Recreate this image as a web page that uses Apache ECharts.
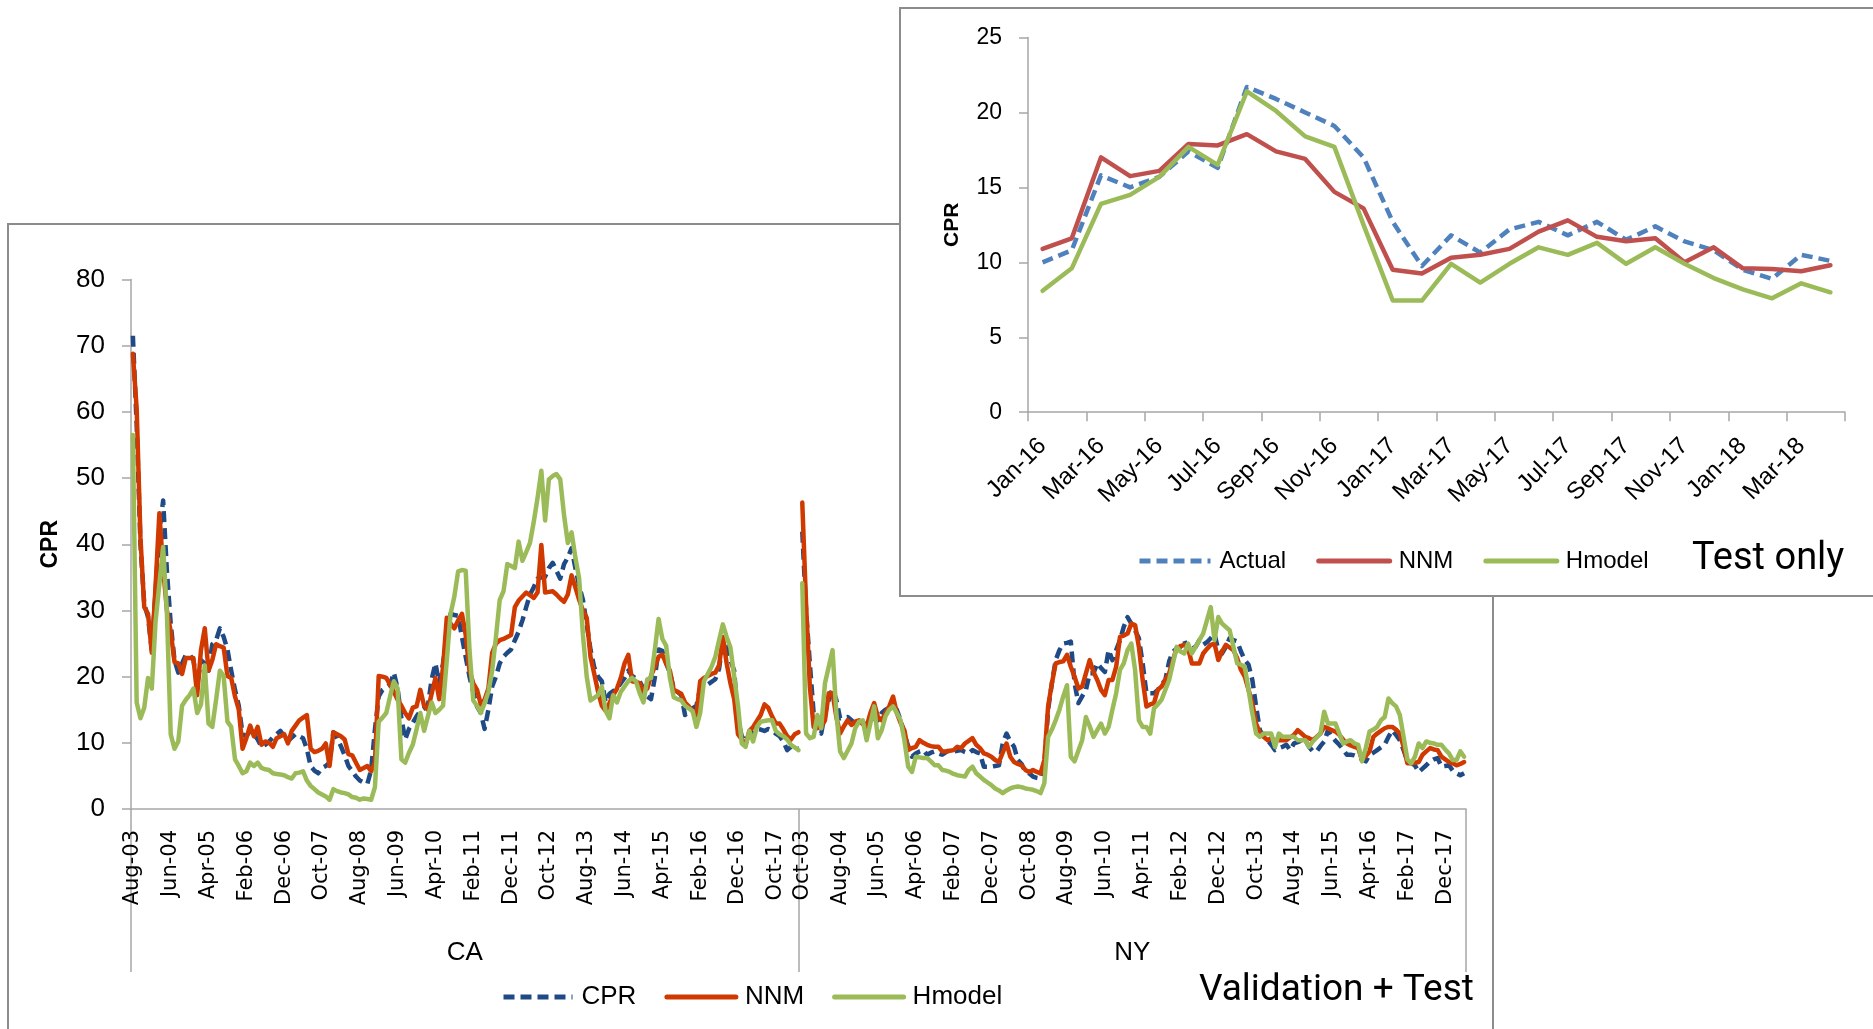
<!DOCTYPE html>
<html>
<head>
<meta charset="utf-8">
<script src="https://cdn.jsdelivr.net/npm/echarts@6/dist/echarts.min.js"></script>
<style>
  html, body { margin: 0; padding: 0; background: #fff; width: 1873px; height: 1029px; overflow: hidden; }
  #main { position: absolute; left: 7px; top: 223px; width: 1487px; height: 880px; border: 2px solid #8c8c8c; box-sizing: border-box; background: #fff; }
  #inset { position: absolute; left: 899px; top: 7px; width: 990px; height: 590px; border: 2px solid #8c8c8c; box-sizing: border-box; background: #fff; }
</style>
</head>
<body>
<div id="main"></div>
<div id="inset"></div>
<script>
// ---------------- Main chart data (Validation + Test) ----------------
const caStart = { month: 7, year: 2003 };   // Aug-03
const nyStart = { month: 9, year: 2003 };   // Oct-03
const groupNames = ['CA', 'NY'];
const seriesNames = ['CPR', 'NNM', 'Hmodel'];

const caCPR = [71.5,58.0,40.0,31.0,29.0,24.0,33.0,42.0,46.6,35.9,28.0,22.5,20.6,22.0,23.3,23.3,22.5,18.8,22.5,22.0,
20.9,24.9,25.5,27.3,26.0,24.1,20.9,18.0,15.6,11.3,11.0,11.8,11.3,10.5,9.4,9.7,10.2,10.8,11.3,11.8,
11.0,10.2,10.8,11.3,11.0,10.7,9.1,6.5,5.8,5.4,6.2,6.5,7.0,11.6,10.7,9.5,8.1,6.5,5.7,4.9,
4.3,4.0,3.8,5.9,12.0,17.0,18.0,18.4,18.8,20.6,18.2,13.7,10.5,12.1,13.0,14.0,14.8,15.2,15.6,19.6,
22.0,19.0,22.0,26.0,29.5,29.3,29.2,26.0,23.0,20.0,17.7,15.5,14.5,12.1,15.0,18.5,20.0,22.0,23.0,23.6,
24.1,25.5,26.8,28.5,30.5,32.4,33.5,34.8,35.0,35.1,36.4,37.2,36.0,34.8,37.0,38.0,39.4,36.4,33.7,31.6,
27.9,24.1,21.4,20.0,19.3,16.1,17.4,17.8,18.2,19.0,19.8,20.9,20.1,19.7,19.3,18.2,17.0,16.6,19.8,24.1,
23.9,22.0,20.6,18.2,17.7,17.2,14.2,14.8,15.2,15.6,18.2,18.5,18.8,19.2,19.6,21.2,25.2,24.7,22.5,20.9,
13.4,11.0,10.2,11.3,11.7,12.1,12.0,11.8,12.1,11.8,11.4,11.0,10.2,8.9,9.4,9.2,9.1];

const caNNM = [68.8,60.5,41.0,30.5,29.5,23.6,33.7,44.7,36.4,30.0,26.8,22.2,22.0,20.4,22.8,22.8,22.8,17.2,24.0,27.3,
20.9,22.5,24.9,24.6,24.4,20.1,19.8,17.0,15.0,9.1,10.7,12.6,11.0,12.4,9.7,10.2,10.0,9.4,10.7,11.0,
11.3,9.9,11.8,12.6,13.4,13.8,14.2,9.1,8.6,8.8,9.1,9.9,6.5,11.6,11.3,11.0,10.5,8.3,8.1,7.0,
5.9,6.2,6.5,5.7,7.0,20.1,20.0,19.8,18.8,17.7,16.5,15.6,14.5,13.7,15.3,15.5,18.0,15.6,15.0,17.4,
19.8,16.6,21.4,28.9,28.0,27.3,28.5,29.5,26.3,20.9,19.0,18.0,15.8,16.5,18.2,23.6,25.0,25.5,25.7,26.0,
26.3,30.5,31.5,32.1,32.7,32.3,31.9,32.7,39.9,32.7,32.8,32.9,32.4,31.8,31.3,32.4,35.3,33.5,31.6,30.0,
28.9,23.0,20.4,17.7,15.6,14.8,16.0,17.2,18.2,19.8,22.0,23.3,19.3,19.2,19.0,17.7,18.2,20.1,21.5,23.0,
23.3,22.0,20.9,18.0,17.7,17.4,16.1,15.5,14.8,14.2,19.3,19.8,20.1,20.4,20.6,21.7,26.0,22.0,19.0,16.6,
11.3,10.5,9.7,11.8,12.4,13.3,14.2,15.8,15.3,14.0,12.9,12.9,12.0,11.0,10.5,11.3,11.6];

const caHmodel = [56.5,16.1,13.7,15.3,19.8,18.2,28.4,34.0,39.6,29.5,11.3,9.1,10.2,15.6,16.5,17.2,18.2,14.5,15.8,21.7,
12.9,12.4,16.5,20.9,20.1,13.2,12.4,7.5,6.5,5.4,5.7,7.0,6.5,7.0,6.2,6.0,5.9,5.4,5.3,5.2,
5.1,4.8,4.6,5.4,5.5,5.7,4.3,3.5,3.0,2.5,2.2,1.9,1.4,3.0,2.7,2.5,2.4,2.2,1.8,1.7,
1.4,1.6,1.5,1.4,3.3,13.2,13.8,14.5,17.0,19.3,18.2,7.5,7.0,8.5,9.7,12.0,14.5,11.8,14.0,16.1,
14.5,15.0,15.6,22.5,29.5,32.1,35.9,36.1,36.0,24.1,16.4,15.6,14.5,16.0,17.7,20.9,26.0,31.6,32.9,37.0,
36.7,36.4,40.4,37.5,38.8,40.2,43.4,47.0,51.1,43.6,49.8,50.3,50.6,49.8,44.4,40.2,41.8,38.0,34.8,26.3,
20.0,16.4,16.8,17.2,18.5,14.8,13.7,17.2,16.1,17.7,18.5,19.3,19.8,19.3,17.5,16.1,19.6,19.8,24.0,28.7,
25.7,24.7,19.8,16.9,16.6,16.4,15.6,15.2,14.8,12.4,14.5,19.3,20.4,21.5,23.0,25.5,27.9,26.0,24.4,20.0,
15.6,9.9,9.4,11.8,10.2,12.4,13.2,13.3,13.4,13.4,11.8,11.3,11.0,10.5,9.7,9.3,8.9];

const nyCPR = [41.9,30.0,22.0,14.5,11.7,11.4,14.5,16.5,18.2,16.5,13.7,13.8,13.9,13.4,12.9,13.0,13.2,12.4,13.9,13.6,
13.4,14.5,15.0,15.3,15.5,15.0,13.4,11.4,9.5,7.9,8.4,8.7,8.9,8.2,8.5,8.7,8.4,8.2,8.6,8.9,
8.7,8.8,8.9,8.6,8.4,8.9,8.6,8.4,6.4,6.4,6.4,6.5,6.6,9.9,11.4,10.2,9.4,7.4,6.8,5.6,
5.4,4.9,4.7,4.6,6.4,15.0,19.0,22.5,24.0,25.0,25.1,25.3,19.0,16.0,17.0,18.0,20.5,20.5,22.0,21.3,
20.7,24.0,22.5,24.0,25.5,27.5,29.0,28.0,27.0,25.8,22.0,17.5,17.5,17.5,18.0,18.8,19.5,22.3,23.8,24.2,
24.5,25.5,23.8,24.2,24.5,25.5,24.8,25.2,25.8,26.5,24.0,23.5,24.5,25.8,25.5,25.3,23.8,22.5,21.8,19.5,
15.5,11.9,11.0,10.4,9.7,8.9,9.2,9.4,9.7,8.9,9.9,10.1,10.4,10.4,9.4,8.7,8.7,9.5,10.2,11.9,
10.9,10.3,9.7,9.0,8.2,8.2,8.1,7.9,7.5,7.2,8.2,8.5,8.9,9.3,9.7,10.9,11.9,11.2,10.4,8.9,
7.2,6.9,6.6,5.6,6.1,6.6,7.2,7.5,7.7,6.4,6.5,6.6,5.8,5.4,5.1,5.4];

const nyNNM = [46.3,31.0,18.5,12.4,12.2,12.4,13.4,17.5,17.5,13.9,11.4,12.5,13.4,12.7,13.2,13.4,12.8,12.4,14.5,16.0,
13.9,13.4,14.5,15.5,17.0,14.5,13.0,11.9,8.9,9.2,9.4,10.4,10.0,9.7,9.5,9.4,9.4,8.7,8.7,8.8,
8.9,9.4,9.2,9.9,10.3,10.7,9.7,9.2,8.4,8.2,7.9,7.4,7.1,8.5,9.9,7.9,7.1,6.8,6.6,5.9,
5.6,5.9,5.6,5.4,7.4,15.5,19.0,22.0,22.2,22.3,23.3,21.5,20.0,18.2,18.5,20.5,22.5,20.7,19.5,18.0,
17.2,19.5,19.5,21.5,26.0,26.2,26.5,28.0,27.8,24.5,19.5,15.5,15.8,16.0,18.0,18.5,19.5,20.5,22.5,24.3,
24.6,24.8,24.3,22.0,22.0,22.0,23.5,24.2,24.8,25.0,22.5,23.8,24.8,24.4,24.0,22.8,21.0,20.0,18.0,16.0,
12.9,11.5,10.9,10.4,10.7,10.4,10.4,10.4,10.4,10.8,11.2,11.9,11.4,10.9,10.7,10.4,10.9,11.4,12.4,12.2,
11.9,11.7,11.2,10.5,9.9,9.6,9.4,9.2,7.4,8.0,8.7,10.9,11.4,11.8,12.2,12.4,12.4,12.0,11.4,9.4,
6.9,6.9,7.0,7.1,8.2,8.7,9.2,9.0,8.9,7.9,7.5,7.1,6.9,6.6,6.8,7.1];

const nyHmodel = [34.1,11.4,10.7,10.9,14.2,12.2,19.0,21.5,24.0,14.5,8.7,7.7,8.8,9.9,12.2,13.2,13.4,10.4,12.9,15.5,
10.7,11.9,14.0,15.0,15.5,14.5,13.4,10.4,6.4,5.6,7.9,7.8,7.7,7.7,7.2,6.6,6.6,5.9,5.8,5.6,
5.3,5.1,5.0,4.9,5.9,6.4,5.4,4.9,4.4,4.0,3.6,3.1,2.8,2.4,2.8,3.1,3.3,3.4,3.3,3.1,
3.0,2.9,2.7,2.4,3.9,10.9,12.0,13.4,15.0,17.0,18.7,7.9,7.2,8.8,10.4,13.9,12.5,10.9,11.9,12.9,
11.4,12.4,15.0,17.5,21.0,22.0,24.0,25.0,21.0,13.4,12.4,12.4,11.4,15.2,15.8,16.5,18.0,19.5,22.0,24.5,
23.8,23.5,25.0,23.5,24.5,25.5,26.5,28.5,30.5,25.5,29.0,28.0,27.5,27.0,24.5,22.0,21.8,21.5,18.0,14.5,
11.4,10.9,11.4,11.4,11.4,9.4,11.4,10.9,10.9,10.9,10.9,10.4,10.4,10.4,9.4,10.2,10.8,11.4,14.7,12.9,
12.9,12.9,11.4,9.9,10.2,10.4,9.9,9.7,7.2,9.2,11.7,12.0,12.4,13.4,13.9,16.7,16.0,15.5,14.2,10.9,
7.5,6.9,7.9,9.9,9.2,10.2,10.0,9.9,9.7,9.7,9.0,8.4,7.4,7.4,8.7,7.9];

// ---------------- Inset data (Test only) ----------------
const testMonths = ['Jan-16','Feb-16','Mar-16','Apr-16','May-16','Jun-16','Jul-16','Aug-16','Sep-16','Oct-16','Nov-16','Dec-16',
  'Jan-17','Feb-17','Mar-17','Apr-17','May-17','Jun-17','Jul-17','Aug-17','Sep-17','Oct-17','Nov-17','Dec-17',
  'Jan-18','Feb-18','Mar-18','Apr-18'];
const testActual = [10.0,10.8,15.8,15.0,15.7,17.4,16.3,21.7,20.9,20.0,19.1,17.0,12.7,9.75,11.8,10.65,12.2,12.7,11.8,12.7,11.5,12.4,11.4,10.8,9.5,8.9,10.5,10.1];
const testNNM = [10.9,11.6,17.0,15.75,16.1,17.9,17.8,18.55,17.4,16.9,14.7,13.6,9.5,9.25,10.3,10.5,10.9,12.05,12.8,11.7,11.4,11.6,10.0,11.0,9.6,9.55,9.4,9.8];
const testHmodel = [8.1,9.6,13.9,14.5,15.7,17.7,16.5,21.4,20.1,18.4,17.7,12.5,7.45,7.45,9.9,8.65,9.9,11.0,10.5,11.3,9.9,11.0,9.9,8.95,8.2,7.6,8.6,8.0];

// ---------------- helpers ----------------
const monNames = ['Jan','Feb','Mar','Apr','May','Jun','Jul','Aug','Sep','Oct','Nov','Dec'];
function monthCats(start, n) {
  const out = [];
  for (let k = 0; k < n; k++) {
    const m = (start.month + k) % 12;
    const y = start.year + Math.floor((start.month + k) / 12);
    out.push(monNames[m] + '-' + String(y % 100).padStart(2, '0'));
  }
  return out;
}
const caCats = monthCats(caStart, caCPR.length);
const nyCats = monthCats(nyStart, nyCPR.length);
const nCA = caCats.length;
const allCats = caCats.map(c => 'CA ' + c).concat(nyCats.map(c => 'NY ' + c));

const navy = '#1F4A85', red = '#D03A00', green = '#9BBB59';
const axisGray = '#a6a6a6';
const txtFont = 'Liberation Sans';
const LW = 4.5;

function lineSeries(name, arr, offset, color, dashed) {
  return {
    name: name, type: 'line', symbol: 'none', showSymbol: false,
    data: arr.map((v, i) => [offset + i, v]),
    itemStyle: { color: color },
    lineStyle: { color: color, width: LW, type: dashed ? [11, 6] : 'solid', join: 'round', cap: dashed ? 'butt' : 'round' },
    emphasis: { disabled: true },
    animation: false
  };
}
const hiddenLegendSymbol = { opacity: 0, color: 'rgba(0,0,0,0)', borderWidth: 0 };

const mainChart = echarts.init(document.getElementById('main'), null, { renderer: 'canvas' });
mainChart.setOption({
  animation: false,
  backgroundColor: '#fff',
  title: {
    text: 'Validation + Test', left: 1190, top: 747, padding: 0,
    textStyle: { fontFamily: 'Roboto', fontSize: 37, fontWeight: 'normal', color: '#000' }
  },
  legend: {
    data: seriesNames, left: 487, top: 754, itemWidth: 69, itemHeight: 14, itemGap: 28,
    itemStyle: hiddenLegendSymbol,
    lineStyle: { width: 5 },
    textStyle: { fontFamily: txtFont, fontSize: 26, color: '#000', padding: [0, 0, 0, 4] }
  },
  grid: { left: 122, top: 54.5, width: 1335, height: 529.5, containLabel: false },
  xAxis: [{
    type: 'category', data: allCats, boundaryGap: true,
    axisLine: { lineStyle: { color: axisGray, width: 1.5 } },
    axisTick: { show: false },
    axisLabel: {
      interval: function (idx) { return idx < nCA ? idx % 10 === 0 : (idx - nCA) % 10 === 0; },
      formatter: function (v) { return v.slice(3); },
      rotate: 90, margin: 21, fontFamily: 'DejaVu Sans', fontSize: 21, color: '#000'
    }
  }, {
    type: 'category', data: groupNames, boundaryGap: true, position: 'bottom', gridIndex: 0,
    axisLine: { show: false },
    axisTick: { show: true, interval: 0, length: 163, lineStyle: { color: axisGray, width: 1.5 } },
    axisLabel: { interval: 0, margin: 131, fontFamily: txtFont, fontSize: 26, color: '#000' }
  }],
  yAxis: {
    type: 'value', min: 0, max: 80, interval: 10,
    name: 'CPR', nameLocation: 'middle', nameGap: 69, nameRotate: 90,
    nameTextStyle: { fontFamily: txtFont, fontWeight: 'bold', fontSize: 23, color: '#000' },
    axisLine: { show: true, lineStyle: { color: axisGray, width: 1.5 } },
    axisTick: { show: true, length: 9, lineStyle: { color: axisGray, width: 1.5 } },
    splitLine: { show: false },
    axisLabel: { margin: 26, fontFamily: txtFont, fontSize: 26, color: '#000' }
  },
  series: [
    lineSeries('CPR', caCPR, 0, navy, true),
    lineSeries('NNM', caNNM, 0, red, false),
    lineSeries('Hmodel', caHmodel, 0, green, false),
    lineSeries('CPR', nyCPR, nCA, navy, true),
    lineSeries('NNM', nyNNM, nCA, red, false),
    lineSeries('Hmodel', nyHmodel, nCA, green, false)
  ]
});

// ---------------- Inset chart ----------------
const blue2 = '#4F81BD', red2 = '#C0504D', green2 = '#9BBB59';
function insetSeries(name, arr, color, dashed) {
  return {
    name: name, type: 'line', symbol: 'none', showSymbol: false, data: arr,
    itemStyle: { color: color },
    lineStyle: { color: color, width: LW, type: dashed ? [11, 6] : 'solid', join: 'round', cap: dashed ? 'butt' : 'round' },
    emphasis: { disabled: true }
  };
}
const insetChart = echarts.init(document.getElementById('inset'), null, { renderer: 'canvas' });
insetChart.setOption({
  animation: false,
  backgroundColor: '#fff',
  title: {
    text: 'Test only', left: 791, top: 531, padding: 0,
    textStyle: { fontFamily: 'Roboto', fontSize: 38, fontWeight: 'normal', color: '#000' }
  },
  legend: {
    data: ['Actual', 'NNM', 'Hmodel'], left: 231, top: 535, itemWidth: 71, itemHeight: 14, itemGap: 30,
    itemStyle: hiddenLegendSymbol,
    lineStyle: { width: 5 },
    textStyle: { fontFamily: txtFont, fontSize: 24, color: '#000', padding: [0, 0, 0, 4] }
  },
  grid: { left: 127, top: 28.5, width: 817, height: 374.7, containLabel: false },
  xAxis: {
    type: 'category', data: testMonths, boundaryGap: true,
    axisLine: { lineStyle: { color: axisGray, width: 1.5 } },
    axisTick: { show: true, interval: 1, length: 9, lineStyle: { color: axisGray, width: 1.5 } },
    axisLabel: { interval: 1, rotate: 45, margin: 30, fontFamily: txtFont, fontSize: 24, color: '#000' }
  },
  yAxis: {
    type: 'value', min: 0, max: 25, interval: 5,
    name: 'CPR', nameLocation: 'middle', nameGap: 65, nameRotate: 90,
    nameTextStyle: { fontFamily: txtFont, fontWeight: 'bold', fontSize: 21, color: '#000' },
    axisLine: { show: true, lineStyle: { color: axisGray, width: 1.5 } },
    axisTick: { show: true, length: 9, lineStyle: { color: axisGray, width: 1.5 } },
    splitLine: { show: false },
    axisLabel: { margin: 26, fontFamily: txtFont, fontSize: 23, color: '#000' }
  },
  series: [
    insetSeries('Actual', testActual, blue2, true),
    insetSeries('NNM', testNNM, red2, false),
    insetSeries('Hmodel', testHmodel, green2, false)
  ]
});
</script>
</body>
</html>
